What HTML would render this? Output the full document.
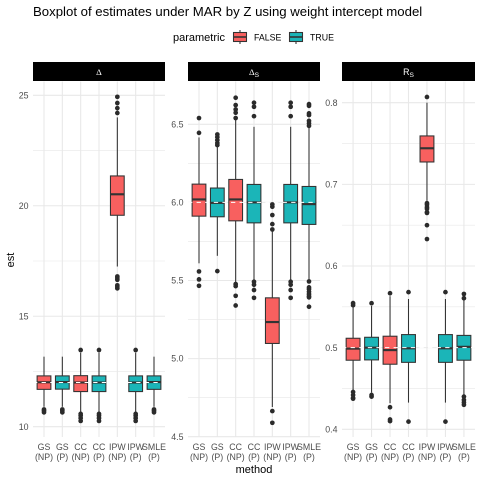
<!DOCTYPE html>
<html lang="en">
<head>
<meta charset="utf-8">
<title>Boxplot of estimates</title>
<style>
html,body{margin:0;padding:0;background:#fff;width:480px;height:480px;overflow:hidden}
svg{display:block}
text{font-family:"Liberation Sans",sans-serif}
</style>
</head>
<body>
<svg id="chart" width="480" height="480" viewBox="0 0 480 480" xmlns="http://www.w3.org/2000/svg">
<text x="33" y="16" font-size="13.2" fill="#000">Boxplot of estimates under MAR by Z using weight intercept model</text>
<g>
<text x="173" y="41" font-size="11" fill="#000">parametric</text>
<g>
<line x1="240" x2="240" y1="30" y2="44" stroke="#333" stroke-width="1.07"/>
<rect x="233.5" y="32.5" width="13" height="9" fill="#F8605F" stroke="#333" stroke-width="1.07"/>
<line x1="233.5" x2="246.5" y1="37" y2="37" stroke="#333" stroke-width="1.6"/>
</g>
<text x="254" y="40.5" font-size="8.8" fill="#000">FALSE</text>
<g>
<line x1="296" x2="296" y1="30" y2="44" stroke="#333" stroke-width="1.07"/>
<rect x="289.5" y="32.5" width="13" height="9" fill="#1BB5B8" stroke="#333" stroke-width="1.07"/>
<line x1="289.5" x2="302.5" y1="37" y2="37" stroke="#333" stroke-width="1.6"/>
</g>
<text x="310" y="40.5" font-size="8.8" fill="#000">TRUE</text>
</g>
<text x="254" y="473" font-size="11" text-anchor="middle" fill="#000">method</text>
<text transform="translate(14,260) rotate(-90)" font-size="11" text-anchor="middle" fill="#000">est</text>
<g>
<rect x="33" y="62" width="132" height="19" fill="#000"/>
<text x="99" y="75" font-size="8.8" text-anchor="middle" fill="#fff" style="font-family:'Liberation Serif',serif">Δ</text>
</g>
<g>
<rect x="188" y="62" width="132" height="19" fill="#000"/>
<text x="254" y="75" font-size="8.8" text-anchor="middle" fill="#fff" style="font-family:'Liberation Serif',serif">Δ<tspan font-size="6.6" dy="2" style="font-family:'Liberation Sans',sans-serif">S</tspan></text>
</g>
<g>
<rect x="342" y="62" width="133" height="19" fill="#000"/>
<text x="408.5" y="75" font-size="8.8" text-anchor="middle" fill="#fff">R<tspan font-size="6.6" dy="2">S</tspan></text>
</g>
<g id="plots"></g>
</svg>
<script>
const categories = [["GS","(NP)"],["GS","(P)"],["CC","(NP)"],["CC","(P)"],["IPW","(NP)"],["IPW","(P)"],["SMLE","(P)"]];
const parametric = [false,true,false,true,false,true,true];

const deltaTicks = [10,15,20,25];
const deltaMinorTicks = [12.5,17.5,22.5];
const deltaTruth = 12;
const deltaQ1 = [11.69,11.70,11.59,11.59,19.57,11.59,11.69];
const deltaMedian = [12.01,12.02,12.00,12.00,20.52,12.00,12.02];
const deltaQ3 = [12.30,12.30,12.31,12.30,21.35,12.30,12.30];
const deltaWhiskerLow = [10.9,10.9,10.6,10.6,17.25,10.6,10.9];
const deltaWhiskerHigh = [13.17,13.17,13.35,13.35,24.0,13.35,13.17];
const deltaOutliers = [
  [10.65,10.72,10.78],
  [10.65,10.72,10.78],
  [10.26,10.39,10.5,10.58,13.47],
  [10.26,10.39,10.5,10.58,13.47],
  [16.26,16.33,16.4,16.65,16.73,16.8,24.2,24.42,24.65,24.93],
  [10.26,10.39,10.5,10.58,13.47],
  [10.65,10.72,10.78]
];

const deltaSTicks = [4.5,5,5.5,6,6.5];
const deltaSMinorTicks = [4.75,5.25,5.75,6.25];
const deltaSTruth = 6;
const deltaSQ1 = [5.912,5.908,5.882,5.869,5.097,5.869,5.859];
const deltaSMedian = [6.019,5.997,6.019,6.0,5.234,6.0,5.989];
const deltaSQ3 = [6.117,6.092,6.147,6.115,5.389,6.115,6.102];
const deltaSWhiskerLow = [5.61,5.658,5.49,5.503,4.69,5.503,5.503];
const deltaSWhiskerHigh = [6.416,6.356,6.53,6.484,5.82,6.484,6.482];
const deltaSOutliers = [
  [5.466,5.507,5.558,6.445,6.54],
  [5.56,6.367,6.38,6.399,6.418,6.435],
  [5.34,5.402,5.464,5.477,6.54,6.574,6.595,6.623,6.67],
  [5.389,5.439,5.473,5.492,6.552,6.612,6.638],
  [4.589,4.664,5.827,5.861,5.919,5.972,5.987],
  [5.389,5.439,5.473,5.492,6.552,6.612,6.638],
  [5.332,5.392,5.4,5.413,5.428,5.445,5.456,5.494,6.49,6.506,6.522,6.559,6.57,6.618,6.629]
];

const rsTicks = [0.4,0.5,0.6,0.7,0.8];
const rsMinorTicks = [0.45,0.55,0.65,0.75];
const rsTruth = 0.5;
const rsQ1 = [0.4846,0.485,0.4797,0.482,0.7274,0.482,0.4846];
const rsMedian = [0.4988,0.5,0.497,0.4992,0.7442,0.4992,0.501];
const rsQ3 = [0.5115,0.5127,0.514,0.516,0.7593,0.516,0.515];
const rsWhiskerLow = [0.447,0.445,0.432,0.4327,0.68,0.4327,0.442];
const rsWhiskerHigh = [0.5505,0.551,0.563,0.5596,0.80,0.5596,0.558];
const rsOutliers = [
  [0.4375,0.4385,0.442,0.4457,0.552,0.5545],
  [0.44,0.442,0.5544],
  [0.41,0.412,0.427,0.5666],
  [0.4094,0.568],
  [0.633,0.65,0.665,0.666,0.67,0.672,0.675,0.677,0.807],
  [0.4094,0.568],
  [0.43,0.433,0.436,0.44,0.5605,0.5658]
];

const tickLabelsDelta = ["10","15","20","25"];
const tickLabelsDeltaS = ["4.5","5.0","5.5","6.0","6.5"];
const tickLabelsRs = ["0.4","0.5","0.6","0.7","0.8"];

const NS = "http://www.w3.org/2000/svg";
const plots = document.getElementById("plots");
const PANEL_TOP = 81.5, PANEL_BOTTOM = 437;

function make(parent, tag, attrs) {
  const el = document.createElementNS(NS, tag);
  for (const k in attrs) el.setAttribute(k, attrs[k]);
  parent.appendChild(el);
  return el;
}
function linearScale(v0, p0, v1, p1) {
  return v => p0 + (v - v0) * (p1 - p0) / (v1 - v0);
}

function drawPanel(name, left, right, yScale, ticks, minor, labels, truth, q1, med, q3, wLow, wHigh, outliers) {
  const xScale = i => left + (i + 0.6) * (right - left) / 7.2;
  const boxHalf = 0.375 * (right - left) / 7.2;
  const g = make(plots, "g", {});
  
  

  minor.forEach(v => {
    const l = make(g, "line", {x1:left, x2:right, y1:yScale(v), y2:yScale(v), stroke:"#e8e8e8", "stroke-width":0.6});
    
    
  });
  ticks.forEach((v, i) => {
    const l = make(g, "line", {x1:left, x2:right, y1:yScale(v), y2:yScale(v), stroke:"#e8e8e8", "stroke-width":1.07});
    
    
    const t = make(g, "text", {x:left - 4.5, y:yScale(v) + 3.1, "font-size":8.8, "text-anchor":"end", fill:"#4d4d4d"});
    t.textContent = labels[i];
    
    
  });
  categories.forEach((c, i) => {
    const x = xScale(i);
    const l = make(g, "line", {x1:x, x2:x, y1:PANEL_TOP, y2:PANEL_BOTTOM, stroke:"#e8e8e8", "stroke-width":1.07});
    
    
    const t = make(g, "text", {x:x, y:450, "font-size":8.8, "text-anchor":"middle", fill:"#4d4d4d"});
    
    
    const a = make(t, "tspan", {x:x, y:450});
    a.textContent = c[0];
    const b = make(t, "tspan", {x:x, y:460});
    b.textContent = c[1];
  });

  categories.forEach((c, i) => {
    const x = xScale(i);
    const box = make(g, "g", {});
    
    
    const w1 = make(box, "line", {x1:x, x2:x, y1:yScale(wHigh[i]), y2:yScale(q3[i]), stroke:"#333", "stroke-width":1.07});
    
    
    const w2 = make(box, "line", {x1:x, x2:x, y1:yScale(q1[i]), y2:yScale(wLow[i]), stroke:"#333", "stroke-width":1.07});
    
    
    outliers[i].forEach(v => {
      const p = make(box, "circle", {cx:x, cy:yScale(v), r:2.35, fill:"#2b2b2b"});
      
      
    });
    const r = make(box, "rect", {x:x - boxHalf, y:yScale(q3[i]), width:2 * boxHalf, height:yScale(q1[i]) - yScale(q3[i]), fill:parametric[i] ? "#1BB5B8" : "#F8605F", stroke:"#333", "stroke-width":1.07});
    
    
    const m = make(box, "line", {x1:x - boxHalf, x2:x + boxHalf, y1:yScale(med[i]), y2:yScale(med[i]), stroke:"#333", "stroke-width":2.13});
    
    
  });

  const ref = make(g, "line", {x1:left, x2:right, y1:yScale(truth), y2:yScale(truth), stroke:"#fff", "stroke-width":1.07, "stroke-dasharray":"4.3 4.3"});
  
  
}

drawPanel("delta", 33, 165, linearScale(10, 426.7, 25, 95.3), deltaTicks, deltaMinorTicks, tickLabelsDelta, deltaTruth, deltaQ1, deltaMedian, deltaQ3, deltaWhiskerLow, deltaWhiskerHigh, deltaOutliers);
drawPanel("delta-s", 188, 320, linearScale(4.5, 436.7, 6.5, 124.3), deltaSTicks, deltaSMinorTicks, tickLabelsDeltaS, deltaSTruth, deltaSQ1, deltaSMedian, deltaSQ3, deltaSWhiskerLow, deltaSWhiskerHigh, deltaSOutliers);
drawPanel("r-s", 342, 475, linearScale(0.4, 429.3, 0.8, 102.7), rsTicks, rsMinorTicks, tickLabelsRs, rsTruth, rsQ1, rsMedian, rsQ3, rsWhiskerLow, rsWhiskerHigh, rsOutliers);
</script>
</body>
</html>
